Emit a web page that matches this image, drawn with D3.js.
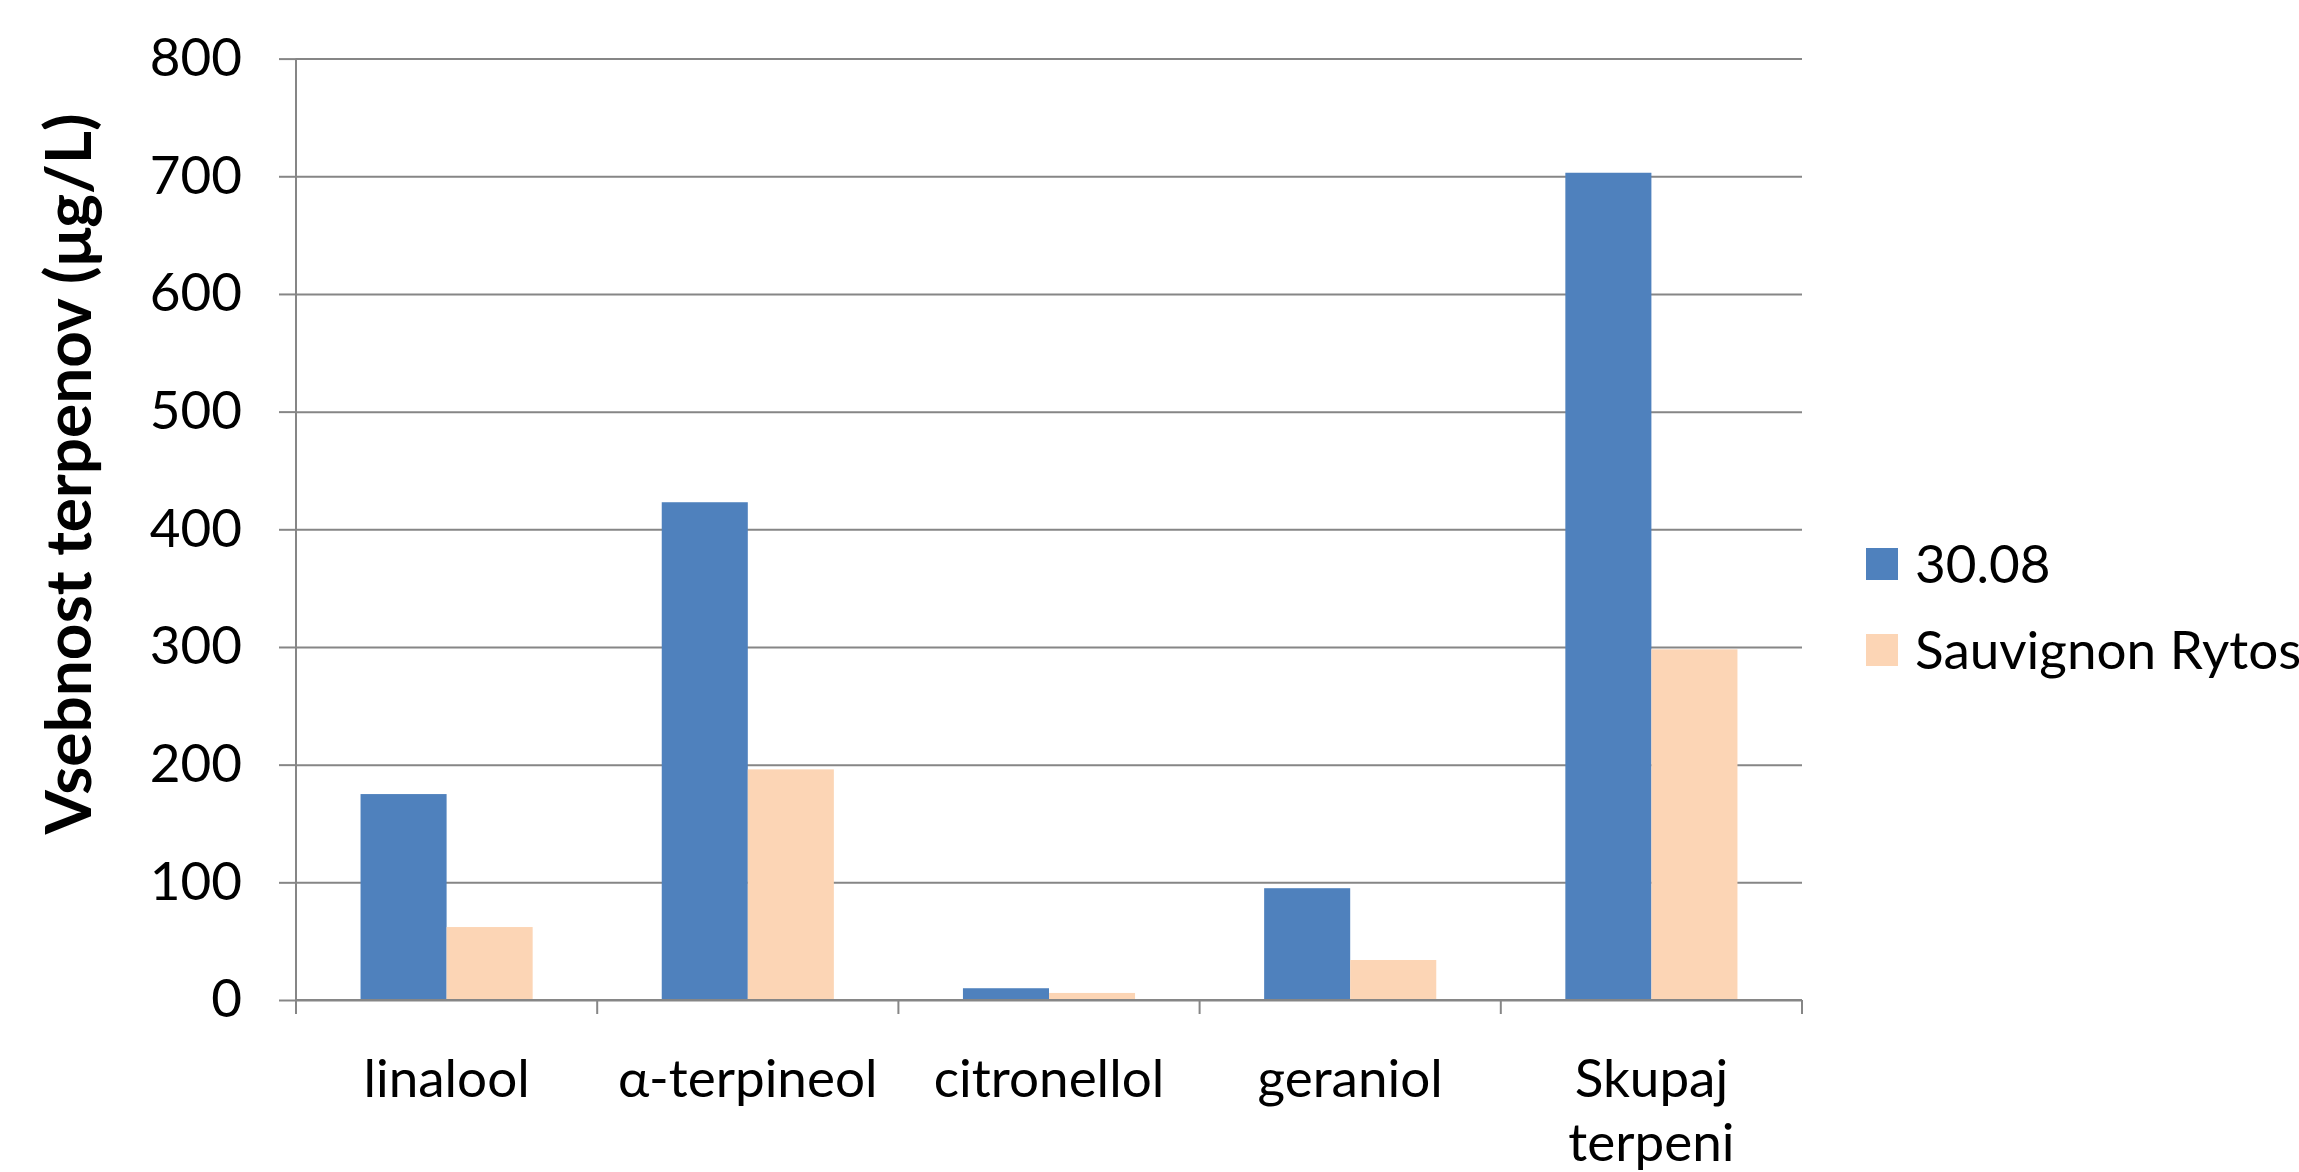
<!DOCTYPE html>
<html>
<head>
<meta charset="utf-8">
<script src="https://cdn.jsdelivr.net/npm/d3@7"></script>
<style>
  body { margin: 0; background: #fff; overflow: hidden; }
  text { font-family: Lato, "Open Sans", sans-serif; fill: #000; }
</style>
</head>
<body>
<div id="chart-area"></div>
<script>
// data
var categories = ["linalool", "α-terpineol", "citronellol", "geraniol", "Skupaj terpeni"];
var seriesNames = ["30.08", "Sauvignon Rytos"];
var values3008 = [175, 423, 10, 95, 703];
var valuesRytos = [62, 196, 6, 34, 298];
var yTicks = [0, 100, 200, 300, 400, 500, 600, 700, 800];
var colors = ["#4F81BD", "#FCD5B5"];

var margin = {top: 58.6, right: 497, bottom: 172, left: 296};
var width = 2299 - margin.left - margin.right;
var height = 1172 - margin.top - margin.bottom;

var svg = d3.select("#chart-area")
    .append("svg")
        .attr("width", 2299)
        .attr("height", 1172);

var g = svg.append("g")
    .attr("transform", "translate(" + margin.left + ", " + margin.top + ")");

var data = categories.map((c, i) => {
    return {cat: c, vals: [values3008[i], valuesRytos[i]]};
});

var x0 = d3.scaleBand()
    .domain(categories)
    .range([0, width])
    .paddingInner(0)
    .paddingOuter(0);

var x1 = d3.scaleBand()
    .domain(seriesNames)
    .range([0, x0.bandwidth()])
    .paddingInner(0)
    .paddingOuter(0.75);

var y = d3.scaleLinear()
    .domain([0, 800])
    .range([height, 0]);

var fontSize = 53;

// gridlines
var grid = g.append("g")
    .attr("class", "grid")
    .call(d3.axisLeft(y).tickValues(yTicks).tickSize(-width).tickFormat(""));
grid.select(".domain").remove();
grid.selectAll("line").attr("stroke", "#868686").attr("stroke-width", 2);

// y axis
var leftAxis = d3.axisLeft(y).tickValues(yTicks).tickSize(17).tickPadding(37);
var ya = g.append("g")
    .attr("class", "left axis")
    .call(leftAxis);
ya.select(".domain").attr("stroke", "#868686").attr("stroke-width", 2)
    .attr("d", "M0," + y(800) + "V" + (height + 14));
ya.selectAll("line").attr("stroke", "#868686").attr("stroke-width", 2);
ya.selectAll("text").attr("font-size", fontSize).attr("font-family", "Lato, sans-serif")
    .attr("fill", "#000");

// bars
var groups = g.selectAll("g.cat")
    .data(data)
    .enter()
    .append("g")
        .attr("class", "cat")
        .attr("transform", (d) => { return "translate(" + x0(d.cat) + ",0)"; });

groups.selectAll("rect")
    .data((d) => { return d.vals.map((v, i) => { return {name: seriesNames[i], v: v, i: i}; }); })
    .enter()
    .append("rect")
        .attr("x", (d) => { return x1(d.name); })
        .attr("y", (d) => { return y(d.v); })
        .attr("width", x1.bandwidth())
        .attr("height", (d) => { return height - y(d.v); })
        .attr("fill", (d) => { return colors[d.i]; });

// x axis line and boundary ticks
g.append("line")
    .attr("x1", 0).attr("x2", width)
    .attr("y1", height).attr("y2", height)
    .attr("stroke", "#868686").attr("stroke-width", 2);

var bounds = categories.map((c) => { return x0(c); }).concat([width]);
g.selectAll("line.xtick")
    .data(bounds)
    .enter()
    .append("line")
        .attr("class", "xtick")
        .attr("x1", (d) => { return d; }).attr("x2", (d) => { return d; })
        .attr("y1", height).attr("y2", height + 14)
        .attr("stroke", "#868686").attr("stroke-width", 2);

// category labels, wrapped if wider than the band
var labels = g.selectAll("text.xlabel")
    .data(categories)
    .enter()
    .append("text")
        .attr("class", "xlabel")
        .attr("x", (d) => { return x0(d) + x0.bandwidth() / 2; })
        .attr("y", height + 97)
        .attr("text-anchor", "middle")
        .attr("font-size", fontSize)
        .text((d) => { return d; });

labels.each(function(d) {
    var t = d3.select(this);
    if (this.getComputedTextLength() > x0.bandwidth() * 0.95) {
        var words = d.split(" ");
        var cx = t.attr("x");
        t.text(null);
        words.forEach((w, i) => {
            t.append("tspan")
                .attr("x", cx)
                .attr("dy", i === 0 ? 0 : 64)
                .text(w);
        });
    }
});

// y axis title
g.append("text")
    .attr("class", "y axis-label")
    .attr("transform", "translate(" + (91 - margin.left) + "," + (474 - margin.top) + ") rotate(-90)")
    .attr("text-anchor", "middle")
    .attr("font-size", 64)
    .attr("font-weight", "bold")
    .text("Vsebnost terpenov (μg/L)");

// legend
var legend = svg.append("g")
    .attr("transform", "translate(1866, 548)");

var items = legend.selectAll("g.item")
    .data(seriesNames)
    .enter()
    .append("g")
        .attr("class", "item")
        .attr("transform", (d, i) => { return "translate(0," + (i * 86) + ")"; });

items.append("rect")
    .attr("width", 32)
    .attr("height", 32)
    .attr("fill", (d, i) => { return colors[i]; });

items.append("text")
    .attr("x", 49)
    .attr("y", 35)
    .attr("font-size", fontSize)
    .text((d) => { return d; });
</script>
</body>
</html>
